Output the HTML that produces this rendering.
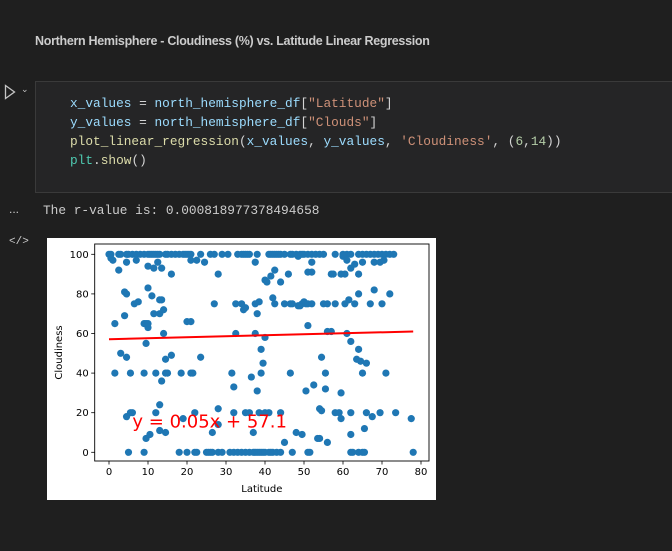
<!DOCTYPE html>
<html><head><meta charset="utf-8">
<style>
body{margin:0;width:672px;height:551px;background:#1f1f1f;overflow:hidden;font-family:"Liberation Sans",sans-serif;position:relative}
.abs{position:absolute}
.mono{font-family:"Liberation Mono",monospace;font-size:12.8px;white-space:pre}
</style></head><body>
<div class="abs" style="left:35px;top:34px;color:#cccccc;font-weight:bold;font-size:12.5px;letter-spacing:-0.3px">Northern Hemisphere - Cloudiness (%) vs. Latitude Linear Regression</div>
<div class="abs" style="left:4px;top:84px;width:12px;height:16px">
<svg width="12" height="16"><path d="M1.5 1.5 L10.5 8 L1.5 14.5 Z" fill="none" stroke="#c5c5c5" stroke-width="1.3"/></svg></div>
<div class="abs" style="left:21px;top:84px;color:#c5c5c5;font-size:9px">&#8964;</div>
<div class="abs" style="left:35px;top:81px;width:640px;height:112px;background:#252526;border:1px solid #3a3a3a;box-sizing:border-box">
<div class="abs mono" style="left:34px;top:12px;line-height:19px;color:#d4d4d4"><span style="color:#9cdcfe">x_values</span> = <span style="color:#9cdcfe">north_hemisphere_df</span>[<span style="color:#ce9178">"Latitude"</span>]
<span style="color:#9cdcfe">y_values</span> = <span style="color:#9cdcfe">north_hemisphere_df</span>[<span style="color:#ce9178">"Clouds"</span>]
<span style="color:#dcdcaa">plot_linear_regression</span>(<span style="color:#9cdcfe">x_values</span>, <span style="color:#9cdcfe">y_values</span>, <span style="color:#ce9178">'Cloudiness'</span>, (<span style="color:#b5cea8">6</span>,<span style="color:#b5cea8">14</span>))
<span style="color:#4ec9b0">plt</span>.<span style="color:#dcdcaa">show</span>()</div>
</div>
<div class="abs" style="left:9px;top:202px;color:#ccc;font-size:12px">...</div>
<div class="abs mono" style="left:43px;top:203px;color:#cccccc">The r-value is: 0.000818977378494658</div>
<div class="abs" style="left:9px;top:236px;color:#ccc;font-size:11px;font-family:'Liberation Mono',monospace">&lt;/&gt;</div>
<svg class="abs" id="chart" style="left:47px;top:238px" width="389" height="262"></svg>
<script>
const xTicks=[0,10,20,30,40,50,60,70,80];
const yTicks=[0,20,40,60,80,100];
const lat=[0,0.5,2.5,3,4.5,5,6,7,8,9,10,10.5,11,11.5,12,12.5,13,14.5,15,16,17,18,19,19.5,20,20.5,21,23.5,26,27,29,30.5,33,34,34.5,35,35.5,36,38,41,41.5,42,42.5,43,43.5,44,45,46.5,47,48,49,49.5,50,51,52,53,54,55,58,60,61,62,64,65,66,67,68,69,70,71,72,73,
5,9,18,20,22,22.5,25,25.5,26,26.5,28,29,31,32,33,34,35,36,37,37.5,38,38.5,39,39.5,40,41,41.5,42,43,44,47,51,51.5,62,62.5,64,65,65.5,78,
0.5,1,2.5,4.5,7,10,11.5,12.5,13.5,21,22.5,24.5,37.5,48.5,52,60,61,62,63,65,68,69.5,70.5,
4.5,13.5,11,10,16,28,40,40.5,41.5,42.5,44,46,51,52,57,57.5,59.5,60.5,64,
9,10,11.5,13,4,6.5,7.5,27,38.5,42,42.5,45,46.5,47,48.5,49,49.5,50,50.5,51,52,55,56,58,60.5,61.5,63,64,67,68,70,72,
4,1.5,9.5,14,20,21,32.5,37.5,57,
9.5,10,13,14,32.5,34,34.5,35,37.5,38,40,51,56,61,
1.5,5.5,9,12,15,18.5,21,21.5,32,39,46.5,55.5,65,71,
3,4.5,14.5,16,23.5,39,39.5,54.5,62,64,64.5,66,63.5,
13.5,14.5,31.5,36.5,38,50.5,52.5,55.5,59.5,
4.5,5.5,6,12,13,19,22,28,32,35,36,38.5,40,41,44,54,54.5,58,59,62,66,67.5,69.5,73.5,77.5,
9.5,10.5,13,14.5,26.5,28,37,45,48,49.5,53.5,54,56,59.5,62,65.5];
const clouds=[100,100,100,100,100,100,100,100,100,100,100,100,100,100,100,100,100,100,100,100,100,100,100,100,100,100,100,100,100,100,100,100,100,100,100,100,100,100,100,100,100,100,100,100,100,100,100,100,100,100,100,100,100,100,100,100,100,100,100,100,100,100,100,100,100,100,100,100,100,100,100,100,
0,0,0,0,0,0,0,0,0,0,0,0,0,0,0,0,0,0,0,0,0,0,0,0,0,0,0,0,0,0,0,0,0,0,0,0,0,0,0,
98,97,92,96,97,94,93,96,93,97,97,96,96,99,96,99,97,93,95,96,96,96,97,
80,77,79,83,90,90,87,86,89,92,86,90,91,91,90,90,90,90,90,
65,63,70,70,81,75,76,75,76,78,75,75,75,75,74,74,75,76,75,75,75,75,75,75,75,77,75,80,75,82,75,80,
69,65,55,72,66,66,75,60,61,
65,65,77,60,60,75,72,73,75,70,58,64,61,60,
40,40,40,40,40,40,40,40,33,40,40,40,40,40,
50,48,47,49,48,52,45,48,56,52,46,45,47,
36,40,40,38,31,31,34,32,30,
18,20,20,20,24,17,20,22,20,20,20,20,20,20,20,22,21,20,20,20,20,18,20,20,17,
7,9,11,10,10,14,10,5,10,9,7,7,5,17,9,12];
const eqIntercept=57.1, eqSlope=0.05, lineRange=[0,78];
const NS="http://www.w3.org/2000/svg";
const svg=document.getElementById('chart');
const L=47.7,R=382,T=6,B=223;
const sx=v=>62+v*3.9, sy=v=>214.3-v*1.98;
function mk(tag,attrs,parent){const e=document.createElementNS(NS,tag);for(const k in attrs)e.setAttribute(k,attrs[k]);(parent||svg).appendChild(e);return e;}
mk('rect',{x:0,y:0,width:389,height:262,fill:'#fff'});
const frame=mk('rect',{x:L,y:T,width:R-L,height:B-T,fill:'none',stroke:'#000','stroke-width':0.9});

xTicks.forEach(t=>{const x=sx(t);mk('line',{x1:x,x2:x,y1:B,y2:B+3.5,stroke:'#000','stroke-width':0.8});
const tx=mk('text',{x:x,y:B+14,'font-size':10,'text-anchor':'middle','font-family':'DejaVu Sans,sans-serif',fill:'#000'});tx.textContent=t;
});
yTicks.forEach(t=>{const y=sy(t);mk('line',{x1:L-3.5,x2:L,y1:y,y2:y,stroke:'#000','stroke-width':0.8});
const tx=mk('text',{x:L-6,y:y+3.5,'font-size':10,'text-anchor':'end','font-family':'DejaVu Sans,sans-serif',fill:'#000'});tx.textContent=t;
});
const xl=mk('text',{x:(L+R)/2,y:254,'font-size':10,'text-anchor':'middle','font-family':'DejaVu Sans,sans-serif'});xl.textContent='Latitude';

const yl=mk('text',{x:0,y:0,'font-size':10,'text-anchor':'middle','font-family':'DejaVu Sans,sans-serif',transform:`translate(15,${(T+B)/2}) rotate(-90)`});yl.textContent='Cloudiness';

lat.forEach((x,i)=>{const c=mk('circle',{cx:sx(x),cy:sy(clouds[i]),r:3.6,fill:'#1f77b4'});
});
const ln=mk('line',{x1:sx(lineRange[0]),y1:sy(eqIntercept+eqSlope*lineRange[0]),x2:sx(lineRange[1]),y2:sy(eqIntercept+eqSlope*lineRange[1]),stroke:'#ff0000','stroke-width':2});

const eq=mk('text',{x:sx(6),y:sy(14)+3,'font-size':18,fill:'#ff0000','font-family':'DejaVu Sans,sans-serif'});eq.textContent='y = 0.05x + 57.1';

</script>
</body></html>
